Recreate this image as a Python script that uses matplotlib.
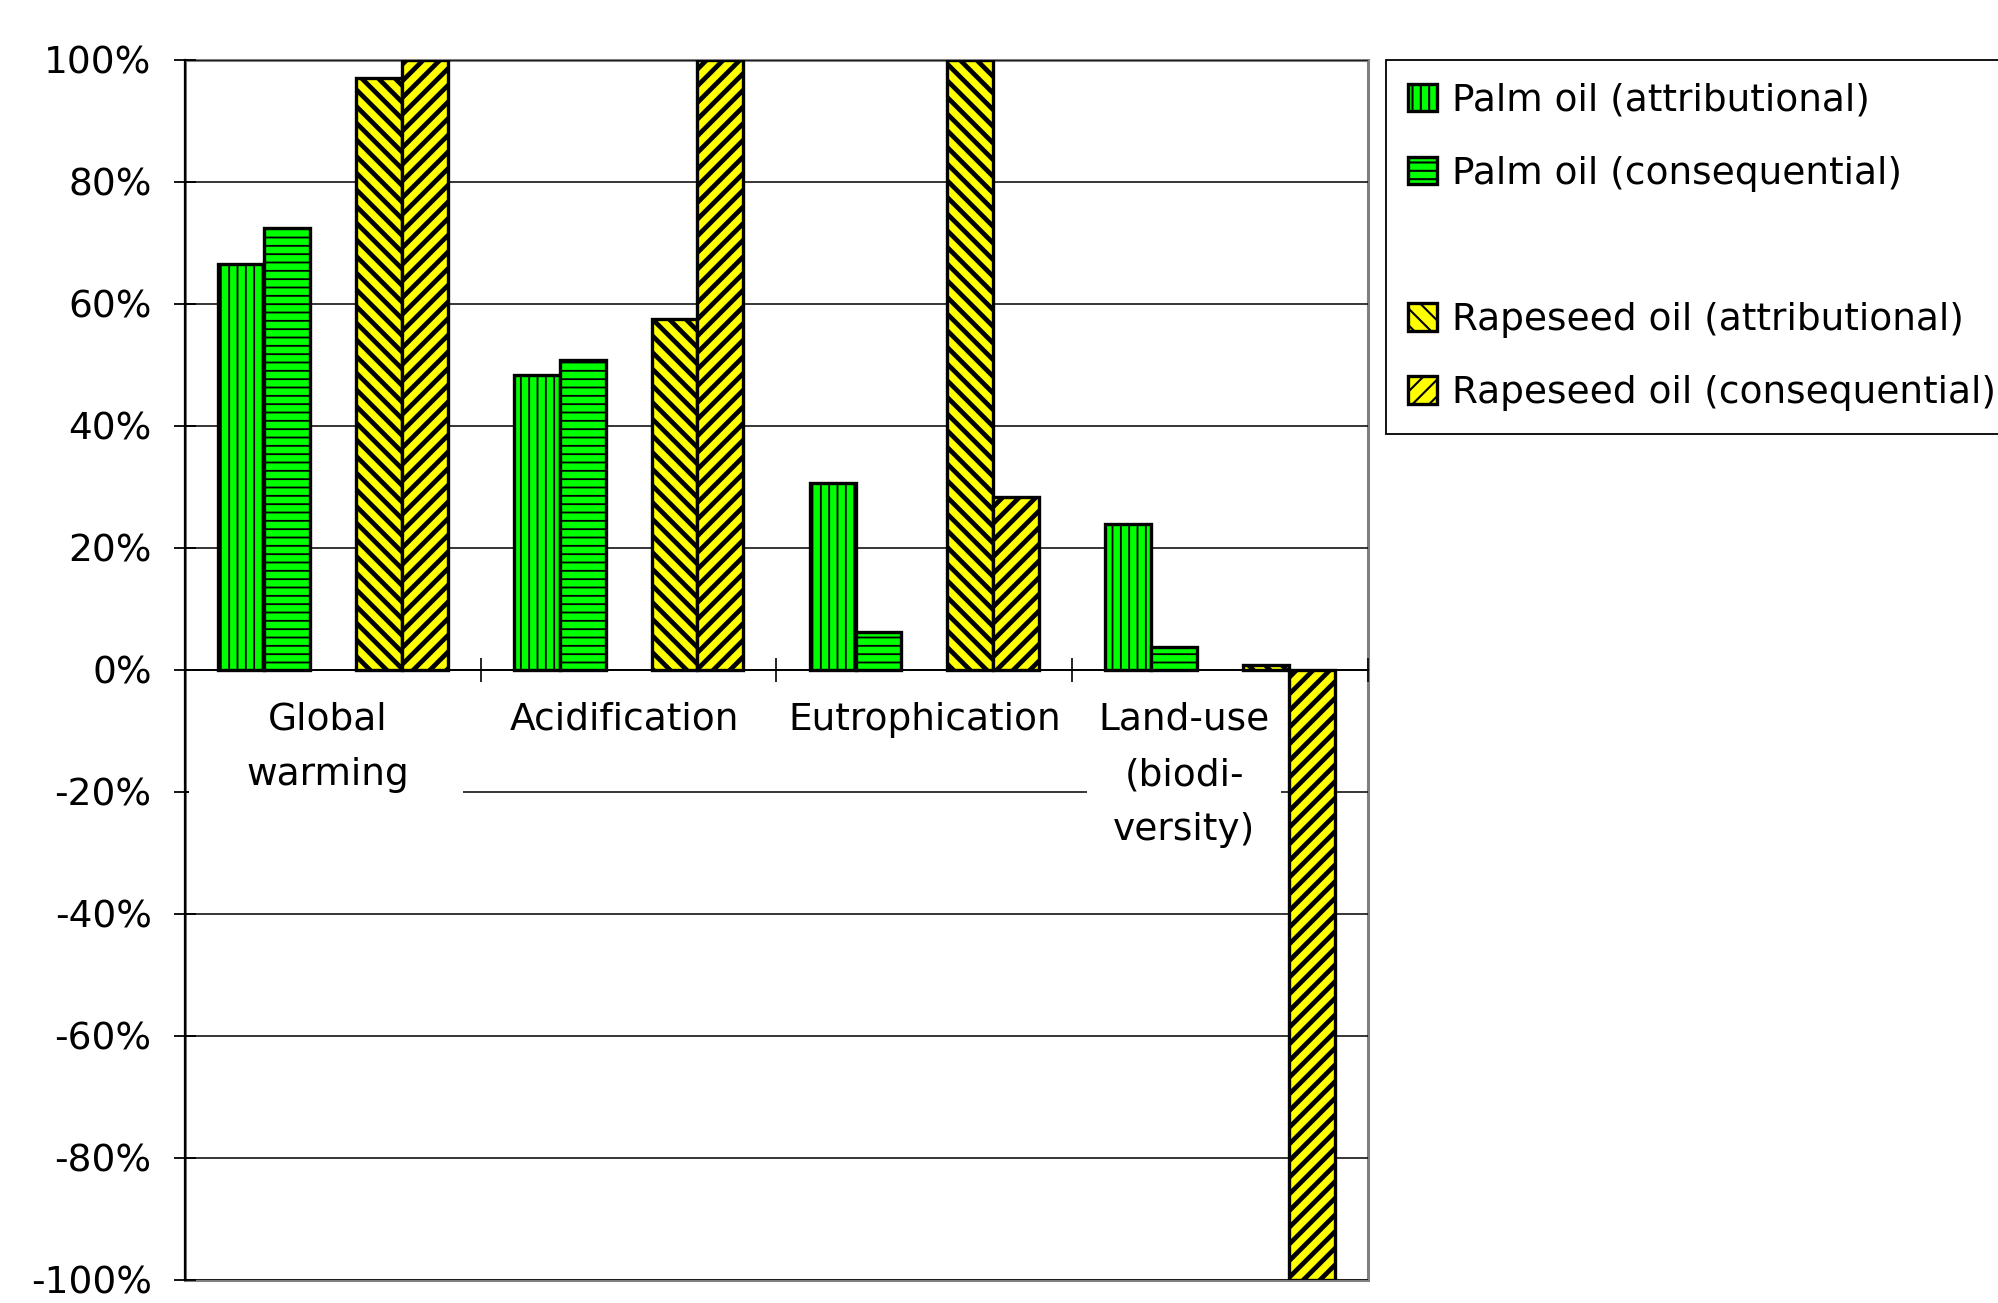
import numpy as np
import matplotlib
matplotlib.use("Agg")
import matplotlib.pyplot as plt
from matplotlib.patches import Patch, Rectangle

# ---- data ----
categories = ["Global\nwarming", "Acidification", "Eutrophication", "Land-use\n(biodi-\nversity)"]
series_names = ["Palm oil (attributional)", "Palm oil (consequential)",
                "Rapeseed oil (attributional)", "Rapeseed oil (consequential)"]
palm_attr = [66.6, 48.4, 30.6, 24.0]
palm_cons = [72.4, 50.9, 6.2, 3.8]
rape_attr = [97.1, 57.6, 100.0, 0.8]
rape_cons = [100.0, 100.0, 28.4, -100.0]
yticks = [-100, -80, -60, -40, -20, 0, 20, 40, 60, 80, 100]
ytick_labels = ["-100%", "-80%", "-60%", "-40%", "-20%", "0%", "20%", "40%", "60%", "80%", "100%"]

plt.rcParams['font.family'] = ['DejaVu Sans']
plt.rcParams['hatch.linewidth'] = 1.5

GREEN = "#00FF00"
YELLOW = "#FFFF00"
FS = 27

fig = plt.figure(figsize=(19.99, 13.03), dpi=100)
W, H = 1999, 1303
ax = fig.add_axes([185 / W, 1 - 1280 / H, (1368 - 185) / W, (1280 - 60) / H])

n_cat = len(categories)
bw = 36 / 232
off = 26 / 232
base = np.arange(n_cat) + off

series = [
    (palm_attr, GREEN, "||", 1.3, 0),
    (palm_cons, GREEN, "--", 1.3, 1),
    (rape_attr, YELLOW, "\\\\", 3.4, 3),
    (rape_cons, YELLOW, "//", 3.4, 4),
]
handles = []
for (vals, col, hatch, hlw, slot), name in zip(series, series_names):
    with plt.rc_context({'hatch.linewidth': hlw}):
        bars = ax.bar(base + (slot + 0.5) * bw, vals, width=bw, color=col,
                      edgecolor="black", linewidth=2.4, hatch=hatch, zorder=2)
    for p in bars:
        if hasattr(p, "set_hatch_linewidth"):
            p.set_hatch_linewidth(hlw)
    handles.append(bars)

ax.set_xlim(0, n_cat)
ax.set_ylim(-100, 100)

# grid
ax.set_axisbelow('line')
ax.yaxis.grid(True, color="black", linewidth=1.1)
ax.xaxis.grid(False)

# frame
for s in ["top", "right"]:
    ax.spines[s].set_visible(False)
ax.patch.set_edgecolor("#808080")
ax.patch.set_linewidth(2.2)
ax.spines["left"].set_color("black")
ax.spines["left"].set_linewidth(1.6)
ax.spines["left"].set_zorder(3)
ax.spines["bottom"].set_position(("data", 0))
ax.spines["bottom"].set_color("black")
ax.spines["bottom"].set_linewidth(1.4)
ax.spines["bottom"].set_zorder(3)

# y ticks
ax.set_yticks(yticks)
ax.set_yticklabels(ytick_labels)
ax.tick_params(axis="y", direction="inout", length=16, width=1.3, pad=16,
               labelsize=FS, colors="black")

# x ticks: boundaries between categories
ax.set_xticks(np.arange(n_cat + 1))
ax.set_xticklabels([])
ax.tick_params(axis="x", which="major", direction="inout", length=17, width=1.2)

# category labels (pixel nudges to match the original placement)
label_dx = [-5, -4, 0, -36]
for i, lab in enumerate(categories):
    ax.annotate(lab, xy=(i + 0.5, 0), xytext=(label_dx[i], -32), textcoords="offset pixels",
                ha="center", va="top", fontsize=FS, linespacing=1.68, zorder=4)

# white backgrounds of category labels (hide gridline behind them)
for x0, x1 in [(0.012, 0.94), (3.05, 3.707)]:
    ax.add_patch(Rectangle((x0, -27), x1 - x0, 14, facecolor="white",
                           edgecolor="none", zorder=1.7))

# legend with blank slot
blank = Patch(facecolor="none", edgecolor="none", label=" ")
leg_handles = [handles[0], handles[1], blank, handles[2], handles[3]]
leg_labels = [series_names[0], series_names[1], " ", series_names[2], series_names[3]]
leg = fig.legend(leg_handles, leg_labels, loc="upper left",
                 bbox_to_anchor=(1386 / W, 1 - 60 / H), borderaxespad=0,
                 fontsize=FS, frameon=True, fancybox=False, shadow=False,
                 framealpha=1, edgecolor="black", handlelength=0.75,
                 handleheight=0.75, handletextpad=0.4, labelspacing=0.99,
                 borderpad=0.6)
leg.get_frame().set_linewidth(1.3)

fig.savefig("out.png", dpi=100, facecolor="white")
